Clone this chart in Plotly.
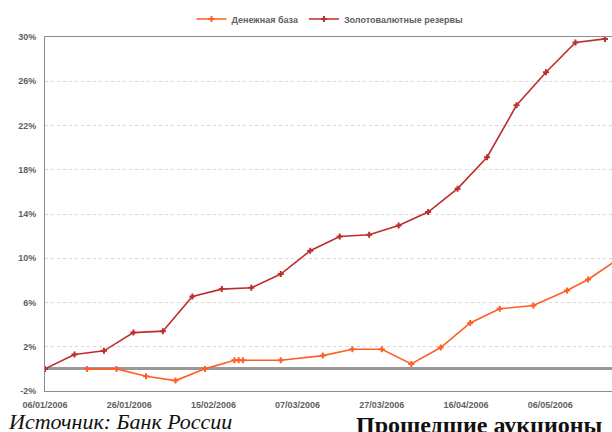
import plotly.graph_objects as go

# Weekly gold and FX reserves, growth since 06/01/2006, %
reserve_dates = ["2006-01-06", "2006-01-13", "2006-01-20", "2006-01-27", "2006-02-03",
                 "2006-02-10", "2006-02-17", "2006-02-24", "2006-03-03", "2006-03-10",
                 "2006-03-17", "2006-03-24", "2006-03-31", "2006-04-07", "2006-04-14",
                 "2006-04-21", "2006-04-28", "2006-05-05", "2006-05-12", "2006-05-19"]
reserve_values = [0.0, 1.3, 1.63, 3.28, 3.41, 6.54, 7.21, 7.33, 8.57, 10.68,
                  11.97, 12.13, 12.97, 14.18, 16.29, 19.13, 23.83, 26.82, 29.5, 29.83]

# Monetary base, growth since the start of the year, %
base_dates = ["2006-01-16", "2006-01-23", "2006-01-30", "2006-02-06", "2006-02-13",
              "2006-02-20", "2006-02-21", "2006-02-22", "2006-03-03", "2006-03-13",
              "2006-03-20", "2006-03-27", "2006-04-03", "2006-04-10", "2006-04-17",
              "2006-04-24", "2006-05-02", "2006-05-10", "2006-05-15", "2006-05-22"]
base_values = [0.0, 0.0, -0.66, -1.06, 0.0, 0.78, 0.78, 0.78, 0.78, 1.2,
               1.78, 1.78, 0.45, 1.93, 4.15, 5.43, 5.73, 7.09, 8.08, 9.9]

y_ticks = [-2, 2, 6, 10, 14, 18, 22, 26, 30]
y_tick_text = ["<b>-2%</b>", "<b>2%</b>", "<b>6%</b>", "<b>10%</b>", "<b>14%</b>",
               "<b>18%</b>", "<b>22%</b>", "<b>26%</b>", "<b>30%</b>"]
x_ticks = ["2006-01-06", "2006-01-26", "2006-02-15", "2006-03-07",
           "2006-03-27", "2006-04-16", "2006-05-06"]
x_tick_text = ["<b>06/01/2006</b>", "<b>26/01/2006</b>", "<b>15/02/2006</b>",
               "<b>07/03/2006</b>", "<b>27/03/2006</b>", "<b>16/04/2006</b>",
               "<b>06/05/2006</b>"]

ORANGE = "#FF5E26"
RED = "#BC2E2E"
GREY_TEXT = "#5f5f5f"

fig = go.Figure()
fig.add_trace(go.Scatter(
    x=base_dates, y=base_values, name="<b>Денежная база</b>",
    mode="lines+markers", line=dict(color=ORANGE, width=1.6),
    marker=dict(symbol="cross", size=5, color=ORANGE),
))
fig.add_trace(go.Scatter(
    x=reserve_dates, y=reserve_values, name="<b>Золотовалютные резервы</b>",
    mode="lines+markers", line=dict(color=RED, width=1.6),
    marker=dict(symbol="cross", size=5, color=RED),
))

W, H = 612, 432
L, R, T, B = 45, 0, 37, 41
plot_h = H - T - B
plot_w = W - L - R


def px_to_paper_y(py):
    return (H - B - py) / plot_h


def px_to_paper_x(px):
    return (px - L) / plot_w


fig.update_layout(
    width=W, height=H,
    margin=dict(l=L, r=R, t=T, b=B, pad=0),
    paper_bgcolor="white", plot_bgcolor="white",
    font=dict(family="Liberation Sans, Arial, sans-serif", color=GREY_TEXT),
    showlegend=True,
    legend=dict(
        orientation="h", x=px_to_paper_x(330), xanchor="center",
        y=px_to_paper_y(19), yanchor="middle",
        font=dict(size=9, color=GREY_TEXT),
        itemwidth=30, tracegroupgap=0, bgcolor="rgba(0,0,0,0)",
    ),
    xaxis=dict(
        type="date",
        range=["2006-01-06 00:00", "2006-05-20 16:19"],
        tickvals=x_ticks, ticktext=x_tick_text,
        tickfont=dict(size=9, color=GREY_TEXT),
        showgrid=False, showline=True, linecolor="#8c8c8c", linewidth=1,
        mirror=True, ticks="", ticklabelstandoff=5,
    ),
    yaxis=dict(
        range=[-2, 30], tickvals=y_ticks, ticktext=y_tick_text,
        tickfont=dict(size=9, color=GREY_TEXT),
        showgrid=True, gridcolor="#d9d9d9", griddash="dot", gridwidth=1,
        zeroline=True, zerolinecolor="#999999", zerolinewidth=3,
        showline=True, linecolor="#8c8c8c", linewidth=1,
        ticks="", ticklabelstandoff=6,
    ),
    annotations=[
        dict(text="Источник: Банк России", xref="paper", yref="paper",
             x=px_to_paper_x(6), y=px_to_paper_y(407), xanchor="left", yanchor="top",
             showarrow=False,
             font=dict(family="Liberation Serif, Times New Roman, serif", size=22,
                       color="#111111", style="italic")),
        dict(text="<b>Прошедшие аукционы</b>", xref="paper", yref="paper",
             x=px_to_paper_x(354), y=px_to_paper_y(410), xanchor="left", yanchor="top",
             showarrow=False,
             font=dict(family="Liberation Serif, Times New Roman, serif", size=24,
                       color="#111111")),
    ],
)

fig.write_html("out.html")
